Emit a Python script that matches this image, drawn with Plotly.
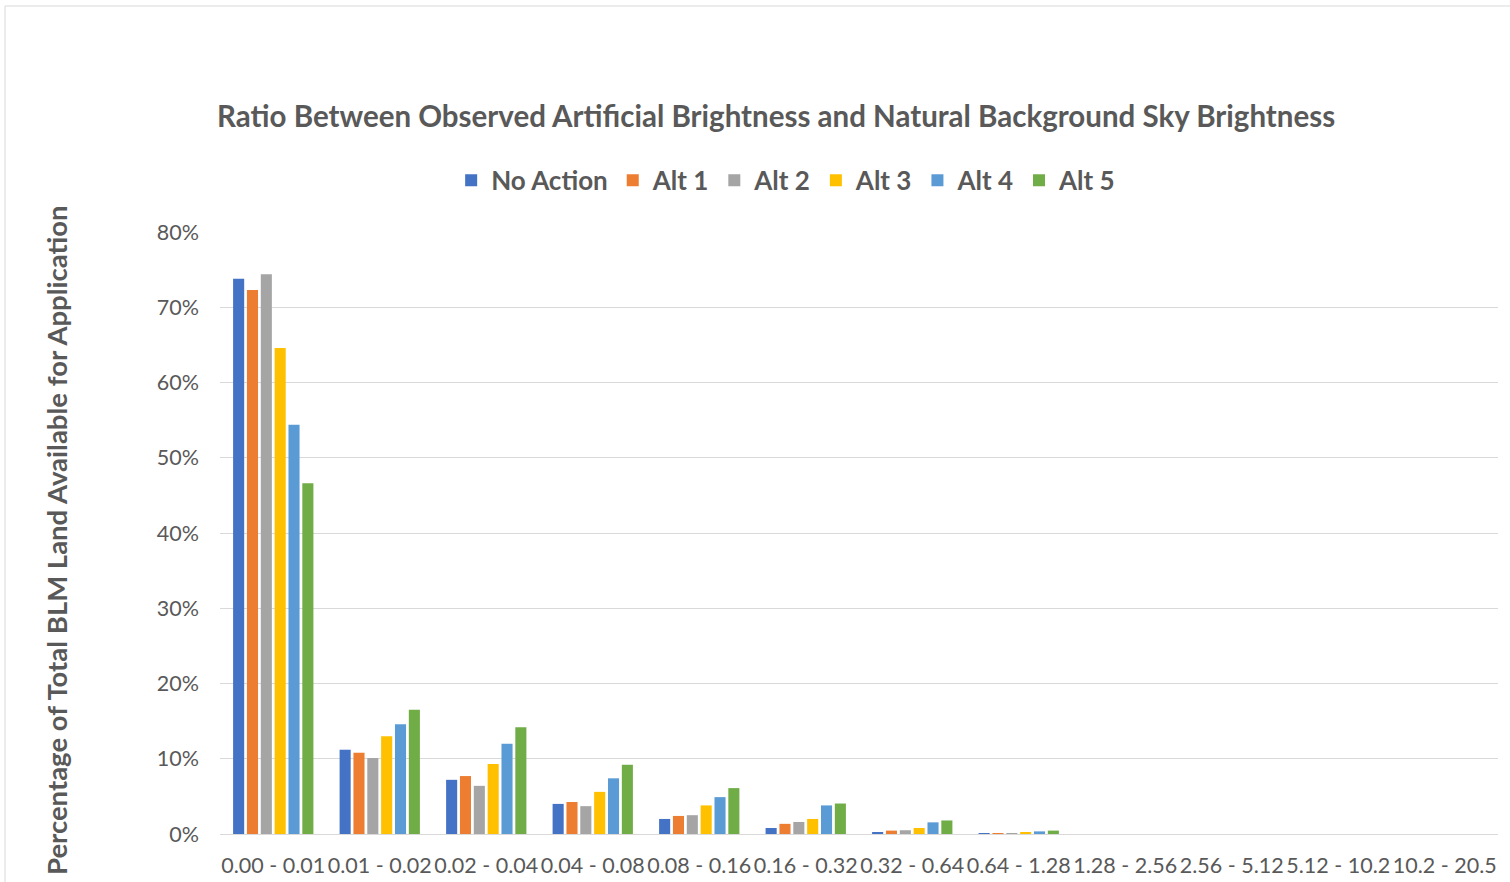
import plotly.graph_objects as go

categories = ["0.00 - 0.01", "0.01 - 0.02", "0.02 - 0.04", "0.04 - 0.08",
              "0.08 - 0.16", "0.16 - 0.32", "0.32 - 0.64", "0.64 - 1.28",
              "1.28 - 2.56", "2.56 - 5.12", "5.12 - 10.2", "10.2 - 20.5"]

no_action = [73.8, 11.2, 7.2, 4.0, 2.0, 0.8, 0.2, 0.06, 0, 0, 0, 0]
alt1 = [72.3, 10.8, 7.7, 4.25, 2.4, 1.35, 0.45, 0.06, 0, 0, 0, 0]
alt2 = [74.4, 10.1, 6.4, 3.7, 2.5, 1.6, 0.5, 0.1, 0, 0, 0, 0]
alt3 = [64.6, 13.0, 9.3, 5.6, 3.8, 2.0, 0.8, 0.2, 0, 0, 0, 0]
alt4 = [54.4, 14.6, 12.0, 7.4, 4.9, 3.8, 1.55, 0.35, 0, 0, 0, 0]
alt5 = [46.6, 16.5, 14.2, 9.2, 6.1, 4.05, 1.8, 0.45, 0, 0, 0, 0]

series = [
    ("No Action", no_action, "#4472C4"),
    ("Alt 1", alt1, "#ED7D31"),
    ("Alt 2", alt2, "#A5A5A5"),
    ("Alt 3", alt3, "#FFC000"),
    ("Alt 4", alt4, "#5B9BD5"),
    ("Alt 5", alt5, "#70AD47"),
]

FONT = "Lato, Open Sans, sans-serif"
GREY = "#595959"

fig = go.Figure()
for name, vals, col in series:
    fig.add_trace(go.Bar(
        x=categories, y=[v / 100 for v in vals], name="<b>" + name + "</b>",
        marker=dict(color=col, line=dict(width=0)),
    ))

fig.update_layout(
    width=1510, height=882,
    paper_bgcolor="white", plot_bgcolor="white",
    margin=dict(l=220, r=12, t=232, b=48),
    barmode="group", bargap=0.22, bargroupgap=0.2,
    font=dict(family=FONT, color=GREY, size=21),
    title=dict(
        text="<b>Ratio Between Observed Artificial Brightness and Natural Background Sky Brightness</b>",
        x=0.514, xanchor="center", y=1 - 117 / 882, yanchor="middle",
        font=dict(size=29.5, color=GREY, family=FONT),
    ),
    legend=dict(
        orientation="h", x=0.443, xanchor="center", y=1.086, yanchor="middle",
        font=dict(size=26, color=GREY, family=FONT), itemwidth=30,
        traceorder="normal",
    ),
    xaxis=dict(
        type="category", showgrid=False, showline=True, linecolor="#d9d9d9",
        linewidth=1, ticks="", tickfont=dict(size=21.5, color=GREY),
        ticklabelstandoff=12, automargin=False,
    ),
    yaxis=dict(
        range=[0, 0.8], dtick=0.1, tickformat=".0%", showgrid=True,
        gridcolor="#d9d9d9", gridwidth=1, zeroline=False, showline=False,
        tickfont=dict(size=21.5, color=GREY), ticklabelstandoff=20,
        automargin=False,
    ),
)

fig.add_annotation(
    text="<b>Percentage of Total BLM Land Available for Application</b>",
    xref="paper", yref="paper", x=(56 - 220) / 1278, y=(834 - 540) / 602,
    xanchor="center", yanchor="middle", textangle=-90, showarrow=False,
    font=dict(size=27.5, color=GREY, family=FONT),
)

# thin chart-area frame (top and left edges visible)
fx0 = (5 - 220) / 1278
fy1 = (834 - 6) / 602
fig.add_shape(type="line", xref="paper", yref="paper", x0=fx0, x1=1.2,
              y0=fy1, y1=fy1, line=dict(color="#d9d9d9", width=1))
fig.add_shape(type="line", xref="paper", yref="paper", x0=fx0, x1=fx0,
              y0=fy1, y1=-0.2, line=dict(color="#d9d9d9", width=1))

fig.write_html("out.html", config={"displayModeBar": False},
               post_script="document.body.style.margin='0';")
